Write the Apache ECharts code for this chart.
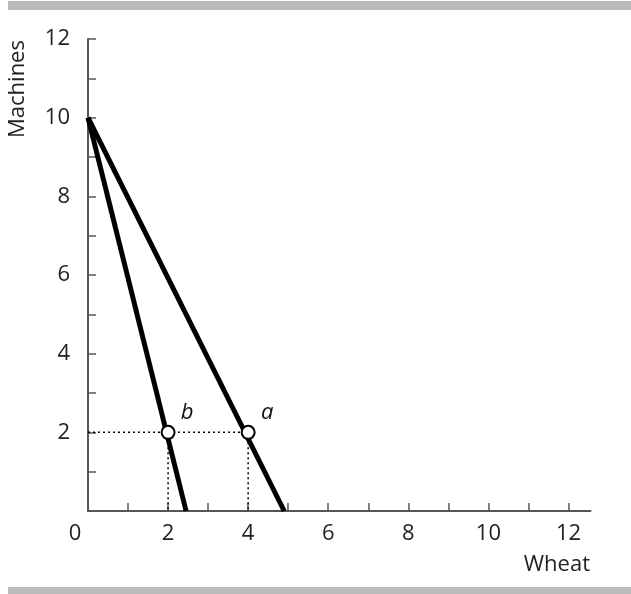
<!DOCTYPE html>
<html><head><meta charset="utf-8">
<script src="https://cdn.jsdelivr.net/npm/echarts@6/dist/echarts.min.js"></script>
<style>html,body{margin:0;padding:0;background:#fff}#c{width:631px;height:594px}</style>
</head><body><div id="c"></div>
<script>
var xTicks = [1,2,3,4,5,6,7,8,9,10,11,12];
var xLabels = [0,2,4,6,8,10,12];
var yTicks = [1,2,3,4,5,6,7,8,9,10,11,12];
var yLabels = [2,4,6,8,10,12];
var ppfB = [[0,10],[2.45,0]];
var ppfA = [[0,10],[4.9,0]];
var points = [[2,2,'b'],[4,2,'a']];
var guideH = [[0,2],[4,2]];
var guideVb = [[2,2],[2,0]];
var guideVa = [[4,2],[4,0]];
var xName = 'Wheat', yName = 'Machines';

var font = 'Open Sans';
var fs = 22;
var axisCol = '#555';
var chart = echarts.init(document.getElementById('c'), null, {renderer:'canvas'});
var lineS = function(d){return {type:'line',data:d,symbol:'none',lineStyle:{color:'#000',width:5,cap:'butt'},z:3,animation:false};};
var dotS = function(d){return {type:'line',data:d,symbol:'none',lineStyle:{color:'#000',width:1.5,type:[2,3]},z:2,animation:false};};
chart.setOption({
  animation:false,
  grid:{left:88,top:39,right:40.5,bottom:83,containLabel:false},
  xAxis:{type:'value',min:0,max:12.55,interval:1,
    axisLine:{show:true,lineStyle:{color:axisCol,width:2}},
    axisTick:{show:true,inside:true,length:8,lineStyle:{color:axisCol,width:1.5},customValues:xTicks},
    axisLabel:{customValues:xLabels,margin:12,color:'#222',fontFamily:font,fontSize:fs,
      formatter:function(v){return v===0?'{z|0}':String(v);},
      rich:{z:{padding:[0,26,0,0],fontFamily:font,fontSize:fs,color:'#222'}}},
    splitLine:{show:false}},
  yAxis:{type:'value',min:0,max:12,interval:1,
    axisLine:{show:true,lineStyle:{color:axisCol,width:2}},
    axisTick:{show:true,inside:true,length:8,lineStyle:{color:axisCol,width:1.5},customValues:yTicks},
    axisLabel:{customValues:yLabels,margin:18,color:'#222',fontFamily:font,fontSize:fs},
    splitLine:{show:false}},
  series:[
    dotS(guideH),dotS(guideVb),dotS(guideVa),
    lineS(ppfB),lineS(ppfA),
    {type:'scatter',data:points,symbol:'circle',symbolSize:13,z:5,
     itemStyle:{color:'#fff',borderColor:'#000',borderWidth:2,opacity:1},
     label:{show:true,position:'top',offset:[19,4],formatter:function(p){return p.data[2];},
       fontFamily:font,fontStyle:'italic',fontSize:fs,color:'#111'}}
  ],
  graphic:[
    {type:'rect',shape:{x:8,y:1,width:623,height:9},style:{fill:'#bbb'},silent:true},
    {type:'rect',shape:{x:8,y:587,width:623,height:8},style:{fill:'#bbb'},silent:true},
    {type:'text',x:590,y:565,style:{text:xName,font:fs+'px "'+font+'"',fill:'#222',align:'right',verticalAlign:'middle'}},
    {type:'text',x:18,y:89,rotation:Math.PI/2,style:{text:yName,font:fs+'px "'+font+'"',fill:'#222',align:'center',verticalAlign:'middle'}}
  ]
});
</script></body></html>
